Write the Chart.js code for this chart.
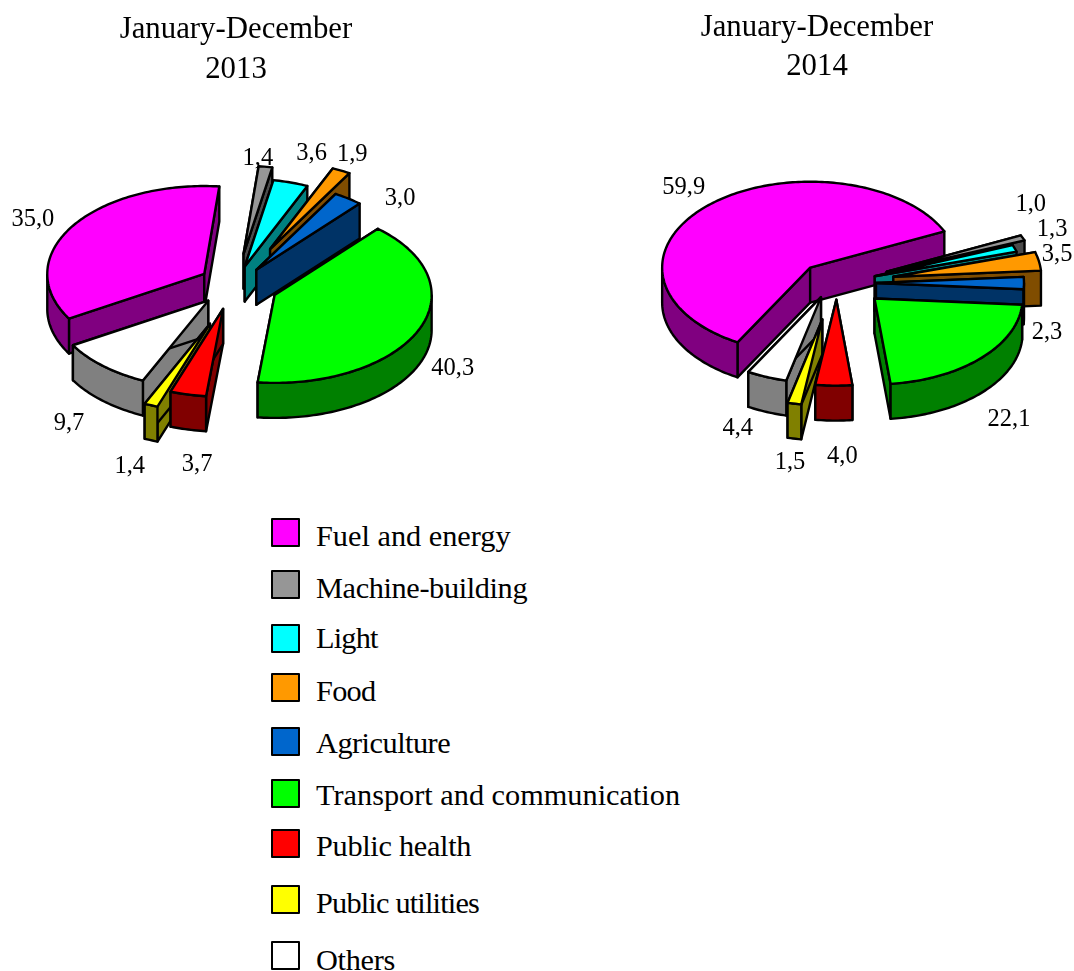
<!DOCTYPE html>
<html>
<head>
<meta charset="utf-8">
<title>Pies</title>
<script src="https://cdn.jsdelivr.net/npm/chart.js@4/dist/chart.umd.js"></script>
<style>
  html, body { margin: 0; padding: 0; background: #fff; }
  body { position: relative; width: 1074px; height: 971px; overflow: hidden; font-family: "Liberation Serif", serif; color: #000; }
  canvas { position: absolute; top: 0; }
  .title { position: absolute; font-size: 30.8px; line-height: 30px; transform: translateX(-50%); white-space: nowrap; }
  .swatch { position: absolute; left: 271px; width: 25px; height: 25px; border: 2.5px solid #000; border-radius: 1px; }
  .item { position: absolute; left: 316px; font-size: 30.3px; line-height: 36px; white-space: nowrap; }
</style>
</head>
<body>
<canvas id="pie2013" width="537" height="500" style="left:0"></canvas>
<canvas id="pie2014" width="537" height="500" style="left:537px"></canvas>
<div id="legend"></div>

<script>
const categories = ["Fuel and energy", "Machine-building", "Light", "Food", "Agriculture",
  "Transport and communication", "Public health", "Public utilities", "Others"];
const values2013 = [35.0, 1.4, 3.6, 1.9, 3.0, 40.3, 3.7, 1.4, 9.7];
const values2014 = [59.9, 1.0, 1.3, 3.5, 2.3, 22.1, 4.0, 1.5, 4.4];
const labels2013 = ["35,0", "1,4", "3,6", "1,9", "3,0", "40,3", "3,7", "1,4", "9,7"];
const labels2014 = ["59,9", "1,0", "1,3", "3,5", "2,3", "22,1", "4,0", "1,5", "4,4"];

const topColors = ["#ff00ff", "#969696", "#00ffff", "#ff9900", "#0066cc", "#00ff00", "#ff0000", "#ffff00", "#ffffff"];
const sideColors = ["#800080", "#4b4b4b", "#008080", "#804d00", "#003366", "#008000", "#800000", "#808000", "#808080"];

// label nudges from the rim of each slice, in px
const nudge2013 = [[-39, -7], [-9, -18], [16, -27], [25, -33], [47, 2], [35, 37], [3, 71], [-33, 79], [-36, 56]];
const nudge2014 = [[-31, -14], [15, -35], [31, -18], [29, -10], [16, 49], [31, 60], [5, 64], [-15, 72], [-35, 44]];

// the reference pulled some slices further out than others
const drift2013 = [[0, 0], [0, -10], [-5, 2], [14, -17], [-5, 2], [0, 0], [-6, 1], [-13, 17], [-3, -2]];
const drift2014 = [[-4, 2], [7, -2], [-6, 1], [11, -2], [-7, 0], [3, -1], [-5, -7], [-12, 13], [-6, -8]];

// legend rows
const legendSwatchTop = [518, 570, 624, 673, 727, 779, 829, 885, 941];
const legendTextTop = [518, 570, 620, 673, 725, 777, 828, 885, 942];
const legendSpacing = [0, -0.37, -0.8, -0.7, -0.5, 0, -0.3, -0.8, -0.3];

function slicePoints(arc, tilt, cy, drift) {
  const off = arc.options.offset / 4;
  const mid = (arc.startAngle + arc.endAngle) / 2;
  const ax = arc.x + Math.cos(mid) * off;
  const ay = arc.y + Math.sin(mid) * off;
  const flat = (x, y) => [x + drift[0], cy + (y - cy) * tilt + drift[1]];
  const n = Math.max(2, Math.ceil((arc.endAngle - arc.startAngle) / 0.02));
  const rim = [];
  for (let i = 0; i <= n; i++) {
    const a = arc.startAngle + (arc.endAngle - arc.startAngle) * i / n;
    rim.push({ a, p: flat(ax + Math.cos(a) * arc.outerRadius, ay + Math.sin(a) * arc.outerRadius) });
  }
  return { apex: flat(ax, ay), rim, mid };
}

function poly(ctx, pts, fill) {
  ctx.beginPath();
  pts.forEach((p, i) => i ? ctx.lineTo(p[0], p[1]) : ctx.moveTo(p[0], p[1]));
  ctx.closePath();
  if (fill) {
    ctx.fillStyle = fill;
    ctx.fill();
  }
  ctx.stroke();
}

// tilted pie with a side wall, slices painted back to front
const pie3d = {
  id: "pie3d",
  beforeDatasetDraw(chart, args, opts) {
    const ctx = chart.ctx;
    const arcs = chart.getDatasetMeta(0).data;
    const cy = (chart.chartArea.top + chart.chartArea.bottom) / 2;
    const depth = opts.depth;
    const order = arcs.map((arc, i) => i).sort((a, b) =>
      Math.sin((arcs[a].startAngle + arcs[a].endAngle) / 2) - Math.sin((arcs[b].startAngle + arcs[b].endAngle) / 2));

    ctx.save();
    ctx.strokeStyle = "#000";
    ctx.lineWidth = 2.4;
    ctx.lineJoin = "round";
    order.forEach(i => {
      const arc = arcs[i];
      const { apex, rim } = slicePoints(arc, opts.tilt, cy, opts.drift[i]);
      const down = p => [p[0], p[1] + depth];
      const side = sideColors[i];
      const first = rim[0].p;
      const last = rim[rim.length - 1].p;
      poly(ctx, [apex, first, down(first), down(apex)], side);
      poly(ctx, [apex, last, down(last), down(apex)], side);

      // outer wall, only where the rim faces the viewer
      let run = [];
      const flush = () => {
        if (run.length > 1) {
          poly(ctx, run.concat(run.slice().reverse().map(down)), side);
        }
        run = [];
      };
      rim.forEach(r => {
        if (Math.sin(r.a) > 0) run.push(r.p);
        else flush();
      });
      flush();

      poly(ctx, [apex].concat(rim.map(r => r.p)), arc.options.backgroundColor);
    });
    ctx.restore();
    return false;
  },
  afterDatasetsDraw(chart, args, opts) {
    const ctx = chart.ctx;
    const arcs = chart.getDatasetMeta(0).data;
    const cy = (chart.chartArea.top + chart.chartArea.bottom) / 2;
    ctx.save();
    ctx.font = '24.5px "Liberation Serif"';
    ctx.fillStyle = "#000";
    ctx.textAlign = "center";
    ctx.textBaseline = "middle";
    arcs.forEach((arc, i) => {
      const { rim } = slicePoints(arc, opts.tilt, cy, [0, 0]);
      const p = rim[Math.floor(rim.length / 2)].p;
      ctx.fillText(opts.labels[i], p[0] + opts.nudge[i][0], p[1] + opts.nudge[i][1]);
    });
    ctx.restore();
  },
};

function makePie(id, values, labels, nudge, drift, o) {
  return new Chart(document.getElementById(id), {
    type: "pie",
    data: {
      labels: categories,
      datasets: [{
        data: values,
        backgroundColor: topColors,
        borderWidth: 0,
        offset: o.offset,
      }],
    },
    options: {
      responsive: false,
      animation: false,
      rotation: o.rotation,
      radius: o.radius,
      layout: { padding: o.padding },
      plugins: {
        legend: { display: false },
        tooltip: { enabled: false },
        pie3d: { tilt: o.tilt, depth: o.depth, labels, nudge, drift },
      },
    },
    plugins: [pie3d],
  });
}

makePie("pie2013", values2013, labels2013, nudge2013, drift2013, {
  rotation: -120.5, radius: 157, offset: 160, tilt: 0.56, depth: 35,
  padding: { left: 0, right: 61, top: 72, bottom: 0 },
});
makePie("pie2014", values2014, labels2014, nudge2014, drift2014, {
  rotation: -150.6, radius: 148, offset: 164, tilt: 0.58, depth: 35,
  padding: { left: 73, right: 0, top: 66, bottom: 0 },
});

function addTitle(x, y, text) {
  const el = document.createElement("div");
  el.className = "title";
  el.style.left = x + "px";
  el.style.top = y + "px";
  el.textContent = text;
  document.body.appendChild(el);
}
addTitle(236, 13, "January-December");
addTitle(236, 53, "2013");
addTitle(817, 11, "January-December");
addTitle(817, 50, "2014");

const legend = document.getElementById("legend");
categories.forEach((name, i) => {
  const box = document.createElement("div");
  box.className = "swatch";
  box.style.top = legendSwatchTop[i] + "px";
  box.style.background = topColors[i];
  legend.appendChild(box);
  const txt = document.createElement("div");
  txt.className = "item";
  txt.style.top = legendTextTop[i] + "px";
  txt.style.letterSpacing = legendSpacing[i] + "px";
  txt.textContent = name;
  legend.appendChild(txt);
});
</script>
</body>
</html>
